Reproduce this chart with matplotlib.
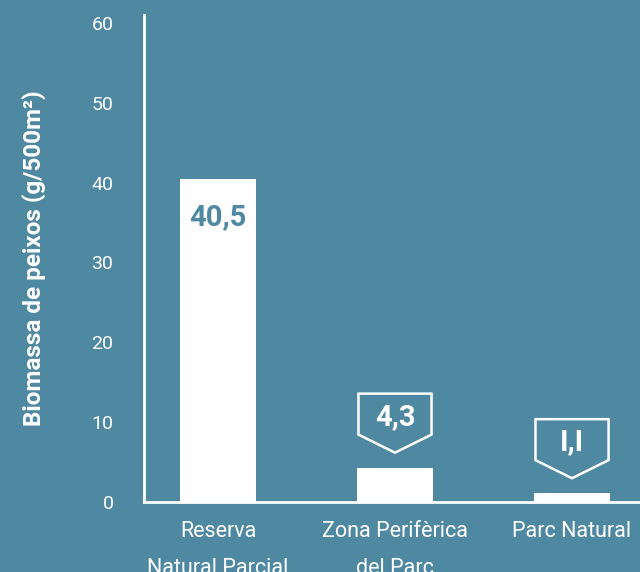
import matplotlib
matplotlib.use("Agg")
import matplotlib.pyplot as plt
from matplotlib.patches import Polygon
from matplotlib.transforms import ScaledTranslation

BG = "#4f88a1"

categories = ["Reserva\nNatural Parcial", "Zona Perifèrica\ndel Parc", "Parc Natural"]
values = [40.5, 4.3, 1.1]
value_labels = ["40,5", "4,3", "I,I"]
yticks = [0, 10, 20, 30, 40, 50, 60]

plt.rcParams["font.family"] = ["Roboto", "DejaVu Sans"]

fig = plt.figure(figsize=(6.4, 5.72), dpi=100, facecolor=BG)
ax = fig.add_axes([0.225, 0.1224, 0.775, 0.8514])
ax.set_facecolor(BG)

x = list(range(len(values)))
ax.bar(x, values, width=0.43, color="white", zorder=2)

ax.set_xlim(-0.418, 2.384)
ax.set_ylim(0, 61)
ax.set_yticks(yticks)
ax.set_xticks(x)
ax.set_xticklabels(categories, linespacing=1.95)
ax.tick_params(axis="y", length=0, pad=22, labelcolor="white", labelsize=14)
ax.tick_params(axis="x", length=0, pad=14, labelcolor="white", labelsize=15.5)

for s in ["top", "right"]:
    ax.spines[s].set_visible(False)
for s in ["left", "bottom"]:
    ax.spines[s].set_color("white")
    ax.spines[s].set_linewidth(2)

ax.set_ylabel("Biomassa de peixos (g/500m²)", color="white", fontsize=17.5,
              fontweight="bold", labelpad=33)

# big bar: label inside, near the top
ax.annotate(value_labels[0], xy=(x[0], values[0]), xytext=(0, -28),
            textcoords="offset points", ha="center", va="center",
            fontsize=21, fontweight="bold", color=BG, zorder=3)

# small bars: shield-shaped callouts above the bar (shape in points)
shield = [(-26.3, 53.3), (26.3, 53.3), (26.3, 23.8), (0, 10.8), (-26.3, 23.8)]
for xi, v, lab in zip(x[1:], values[1:], value_labels[1:]):
    tr = ScaledTranslation(xi, v, ax.transData)
    verts = [(px / 72, py / 72) for px, py in shield]
    ax.add_patch(Polygon(verts, closed=True, facecolor=BG, edgecolor="white",
                         linewidth=1.8, transform=fig.dpi_scale_trans + tr,
                         zorder=3, clip_on=False))
    ax.annotate(lab, xy=(xi, v), xytext=(0, 36.5), textcoords="offset points",
                ha="center", va="center", fontsize=21, fontweight="bold",
                color="white", zorder=4)

fig.savefig("out.png", dpi=100, facecolor=BG)
